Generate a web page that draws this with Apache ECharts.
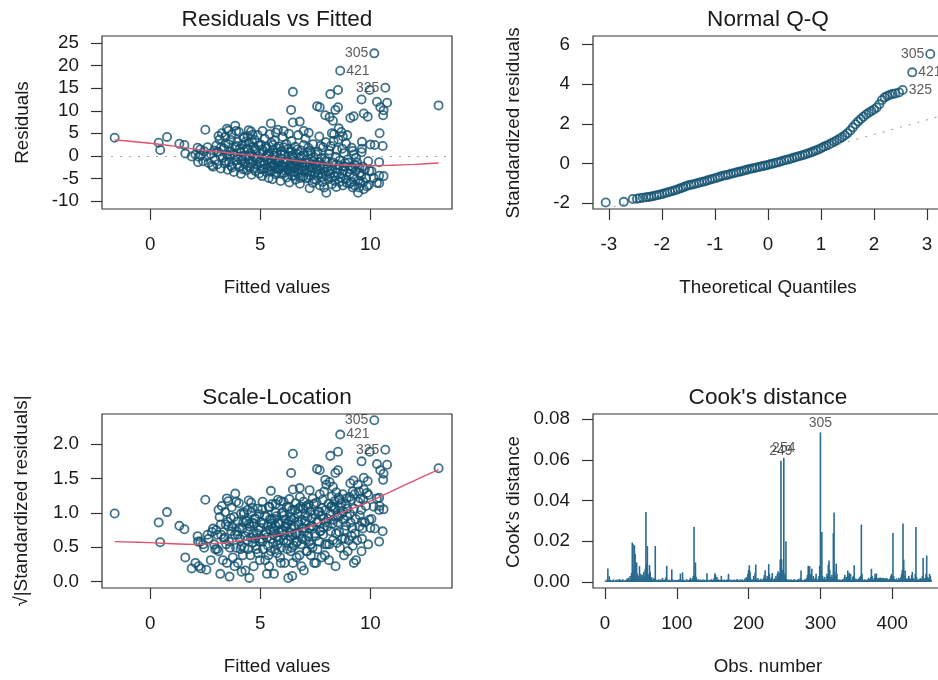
<!DOCTYPE html>
<html>
<head>
<meta charset="utf-8">
<script src="https://cdn.jsdelivr.net/npm/echarts@6.0.0/dist/echarts.min.js"></script>
<style>
  html, body { margin: 0; padding: 0; background: #fff; }
  #chart { width: 938px; height: 680px; }
</style>
</head>
<body>
<div id="chart"></div>
<script>
// ---- Regression diagnostics: data ----

// Residuals vs Fitted: [fitted value, residual]
const residFit = [
  [-1.62,4.0],[0.38,2.9],[0.45,1.3],[0.76,4.2],[1.32,2.7],[1.55,2.4],[1.59,0.5],[1.88,-0.15],[2.15,1.8],[2.27,1.4],[2.17,-1.4],[2.8,-2.1],[2.5,5.8],[3.48,6.0],[3.86,6.7],[4.47,5.7],[5.48,7.2],
  [2.05,0.3],[2.2,-0.2],[2.3,0.15],[2.4,-1.2],[2.45,1.0],
  [2.55,-0.12],[2.6,1.9],[2.65,-1.6],[2.75,0.4],[2.85,-2.4],[2.9,1.2],[2.95,-0.9],
  [3.0,2.3],[3.05,-1.9],[3.1,0.8],[3.15,3.6],[3.2,-2.8],[3.3,-0.4],[3.35,1.6],[3.4,4.2],[3.45,-1.2],[3.48,0.3],[3.1,4.4],[3.25,5.0],[3.18,-0.05],
  [3.52,-3.1],[3.55,2.6],[3.6,-0.02],[3.62,1.0],[3.68,-2.2],[3.7,4.8],[3.75,0.5],[3.8,-3.6],[3.85,1.9],[3.9,-1.0],[3.95,3.1],[3.98,-0.3],[3.55,5.6],[3.9,5.5],
  [4.02,5.3],[4.05,-2.5],[4.1,0.9],[4.12,-4.0],[4.18,2.4],[4.2,-0.6],[4.25,3.9],[4.3,-1.8],[4.32,0.1],[4.38,-3.2],[4.4,1.5],[4.42,4.4],[4.45,-0.9],[4.48,2.9],[4.24,4.2],[4.15,-0.08],
  [4.52,-2.6],[4.55,0.6],[4.58,5.4],[4.6,-4.2],[4.65,-1.3],[4.68,2.0],[4.7,-0.2],[4.75,3.5],[4.78,-3.4],[4.8,1.1],[4.85,-2.0],[4.88,4.6],[4.9,-0.7],[4.95,-3.9],[4.98,0.4],[4.65,4.7],
  [5.02,2.5],[5.05,-1.6],[5.08,-4.5],[5.12,0.9],[5.15,-2.9],[5.2,3.8],[5.22,-0.4],[5.28,-3.6],[5.3,1.7],[5.35,-1.1],[5.38,-4.9],[5.4,0.2],[5.42,4.8],[5.45,-2.3],[5.48,-0.8],[5.5,2.9],[5.1,5.5],[5.3,-0.05],
  [5.52,-3.3],[5.55,-5.2],[5.58,1.3],[5.6,-1.9],[5.62,0.05],[5.65,3.4],[5.68,-2.7],[5.7,-4.1],[5.75,0.7],[5.78,-1.2],[5.8,5.8],[5.82,-3.0],[5.85,2.1],[5.9,-0.5],[5.92,-5.6],[5.95,1.0],[5.98,-2.2],[5.7,5.2],
  [6.02,4.2],[6.05,-1.5],[6.08,-3.8],[6.1,0.3],[6.12,-2.6],[6.18,2.6],[6.2,-4.8],[6.22,-0.9],[6.25,1.5],[6.3,-3.2],[6.32,-5.9],[6.35,-1.8],[6.38,0.8],[6.4,-2.4],[6.42,3.3],[6.45,-4.4],[6.48,-0.3],[6.06,5.5],[6.3,4.9],[6.48,14.2],[6.4,10.2],[6.48,7.4],[6.45,-0.03],
  [6.52,-1.1],[6.55,-3.5],[6.58,2.0],[6.6,-5.3],[6.62,-2.0],[6.65,0.5],[6.7,-4.0],[6.72,4.6],[6.75,-2.8],[6.78,-0.6],[6.8,-6.2],[6.85,1.2],[6.88,-3.3],[6.9,-1.6],[6.95,-4.6],[6.98,0.1],[6.97,5.5],[6.79,7.6],
  [7.02,-2.2],[7.05,3.8],[7.08,-5.0],[7.1,-0.8],[7.15,-3.6],[7.18,1.8],[7.24,-7.2],[7.22,-1.4],[7.25,-4.3],[7.3,0.6],[7.32,-2.7],[7.38,-6.0],[7.4,2.6],[7.45,-0.3],[7.48,-3.9],[7.2,5.1],
  [7.52,-1.8],[7.55,-5.4],[7.6,0.9],[7.62,-3.1],[7.68,4.3],[7.7,-6.6],[7.72,-2.2],[7.78,-0.5],[7.8,-4.7],[7.85,1.9],[7.88,-3.4],[7.9,-7.0],[7.95,-1.2],[7.98,3.0],[7.58,11.0],[7.7,10.8],[7.95,9.0],
  [8.0,-8.2],[8.05,-2.6],[8.1,-5.2],[8.12,0.4],[8.18,-3.9],[8.2,2.2],[8.25,-6.3],[8.3,-1.5],[8.35,4.8],[8.4,-4.5],[8.42,-0.2],[8.45,-6.9],[8.48,1.3],[8.18,13.7],[8.3,7.8],[8.41,10.2],[8.53,10.8],[8.53,14.6],[8.15,8.6],[8.25,5.0],
  [8.52,-3.0],[8.55,3.6],[8.6,-5.8],[8.62,-1.0],[8.68,5.3],[8.7,-4.0],[8.75,-6.6],[8.8,0.6],[8.82,-2.3],[8.88,-5.2],[8.9,2.7],[8.95,-3.7],[8.63,18.9],[8.75,4.3],[8.95,4.6],[8.56,6.1],
  [9.02,-1.5],[9.05,-6.2],[9.1,-3.0],[9.15,1.8],[9.2,-7.0],[9.25,-4.6],[9.3,-2.0],[9.35,-0.4],[9.44,-8.2],[9.45,-5.5],[9.09,8.4],[9.24,8.8],[9.2,1.1],[9.25,0.3],
  [9.52,-3.8],[9.55,-6.0],[9.6,0.8],[9.65,-2.4],[9.7,-7.4],[9.8,-5.0],[9.9,-1.2],[9.95,-3.3],[9.6,12.5],[9.7,9.4],[9.88,8.7],[9.62,3.1],[9.62,1.6],[9.92,-6.5],[9.97,14.6],[10.0,2.5],
  [10.18,22.75],[10.68,15.1],[10.3,12.0],[10.76,11.8],[10.45,10.8],[10.6,10.1],[10.58,9.0],[10.42,5.0],[10.2,2.4],[10.56,2.2],[10.4,-1.4],[10.4,-4.4],[10.4,-6.1],[10.15,-4.9],[10.3,-6.0],[10.05,-3.4],[10.6,-4.5],[13.1,11.2],
  [3.03,0.9],[3.22,1.9],[3.38,-1.7],[3.43,2.8],[3.58,-1.4],[3.66,3.5],[3.72,-2.6],[3.83,0.2],[3.93,2.2],[3.97,-1.9],
  [4.07,1.6],[4.14,-1.1],[4.22,-3.0],[4.28,1.0],[4.35,3.2],[4.43,-2.2],[4.5,0.0],[4.57,-1.7],[4.63,3.0],[4.72,-2.9],[4.77,1.6],[4.83,-0.9],[4.93,2.3],[4.97,-1.4],
  [5.04,-3.0],[5.1,1.4],[5.18,-1.9],[5.25,2.1],[5.33,-2.7],[5.37,0.6],[5.44,-3.4],[5.5,-1.6],[5.57,2.4],[5.63,-2.2],[5.67,-0.9],[5.73,-3.7],[5.77,1.7],[5.83,-1.5],[5.88,-2.9],[5.93,0.3],[5.97,-4.0],
  [6.03,-2.3],[6.07,1.9],[6.13,-3.3],[6.17,-1.3],[6.23,-2.9],[6.27,0.0],[6.33,-2.1],[6.37,-3.6],[6.43,1.0],[6.47,-1.9],[6.53,-2.6],[6.57,-4.4],[6.63,-1.3],[6.68,1.4],[6.73,-3.1],[6.77,-2.0],[6.83,-4.9],[6.87,-0.2],[6.93,-2.5],[6.97,2.4],
  [7.03,-3.2],[7.07,-1.5],[7.13,0.8],[7.17,-4.8],[7.23,-2.4],[7.28,1.2],[7.33,-3.5],[7.37,-1.0],[7.43,-5.2],[7.47,-2.0],[7.53,0.3],[7.57,-3.0],[7.63,-4.2],[7.67,-1.4],[7.73,2.2],[7.77,-3.8],[7.83,-5.8],[7.87,-2.5],[7.93,-0.6],[7.97,-4.4],
  [8.03,-1.2],[8.08,-3.4],[8.13,1.2],[8.22,-4.9],[8.28,-2.9],[8.33,3.3],[8.38,-5.6],[8.44,-2.0],[8.5,-3.8],[8.58,-2.1],[8.65,-4.8],[8.72,1.6],[8.78,-3.3],[8.85,-1.6],[8.92,-6.0],[8.97,-0.8],
  [9.07,-4.0],[9.13,-5.8],[9.18,-2.5],[9.28,-6.6],[9.33,-3.4],[9.4,-1.5],[9.48,-7.0],[9.58,-4.4],[9.68,-5.8],[9.75,-3.0],[9.85,-6.8],[9.5,-2.6]
];

// Scale-Location: [fitted value, sqrt(|standardized residual|)]
const scaleLoc = [
  [-1.62,0.99],[0.38,0.86],[0.45,0.57],[0.76,1.01],[1.32,0.81],[1.55,0.76],[1.59,0.35],[1.88,0.19],[2.15,0.66],[2.27,0.58],[2.17,0.58],[2.8,0.72],[2.5,1.19],[3.48,1.21],[3.86,1.28],[4.47,1.18],[5.48,1.32],
  [2.05,0.27],[2.2,0.22],[2.3,0.19],[2.4,0.54],[2.45,0.49],
  [2.55,0.17],[2.6,0.68],[2.65,0.62],[2.75,0.31],[2.85,0.77],[2.9,0.54],[2.95,0.47],
  [3.0,0.75],[3.05,0.68],[3.1,0.44],[3.15,0.94],[3.2,0.83],[3.3,0.31],[3.35,0.62],[3.4,1.01],[3.45,0.54],[3.48,0.27],[3.1,1.04],[3.25,1.10],[3.18,0.11],
  [3.52,0.87],[3.55,0.80],[3.6,0.07],[3.62,0.49],[3.68,0.73],[3.7,1.08],[3.75,0.35],[3.8,0.94],[3.85,0.68],[3.9,0.49],[3.95,0.87],[3.98,0.27],[3.55,1.17],[3.9,1.16],
  [4.02,1.14],[4.05,0.78],[4.1,0.47],[4.12,0.99],[4.18,0.77],[4.2,0.38],[4.25,0.98],[4.3,0.66],[4.32,0.16],[4.38,0.88],[4.4,0.60],[4.42,1.04],[4.45,0.47],[4.48,0.84],[4.24,1.01],[4.15,0.14],
  [4.52,0.80],[4.55,0.38],[4.58,1.15],[4.6,1.01],[4.65,0.56],[4.68,0.70],[4.7,0.22],[4.75,0.92],[4.78,0.91],[4.8,0.52],[4.85,0.70],[4.88,1.06],[4.9,0.41],[4.95,0.98],[4.98,0.31],[4.65,1.07],
  [5.02,0.78],[5.05,0.62],[5.08,1.05],[5.12,0.47],[5.15,0.84],[5.2,0.96],[5.22,0.31],[5.28,0.94],[5.3,0.64],[5.35,0.52],[5.38,1.09],[5.4,0.22],[5.42,1.08],[5.45,0.75],[5.48,0.44],[5.5,0.84],[5.1,1.16],[5.3,0.11],
  [5.52,0.90],[5.55,1.13],[5.58,0.56],[5.6,0.68],[5.62,0.11],[5.65,0.91],[5.68,0.81],[5.7,1.00],[5.75,0.41],[5.78,0.54],[5.8,1.19],[5.82,0.86],[5.85,0.72],[5.9,0.35],[5.92,1.17],[5.95,0.49],[5.98,0.73],[5.7,1.13],
  [6.02,1.01],[6.05,0.60],[6.08,0.96],[6.1,0.27],[6.12,0.80],[6.18,0.80],[6.2,1.08],[6.22,0.47],[6.25,0.60],[6.3,0.88],[6.32,1.20],[6.35,0.66],[6.38,0.44],[6.4,0.77],[6.42,0.90],[6.45,1.04],[6.48,0.27],[6.06,1.16],[6.3,1.09],[6.48,1.86],[6.4,1.58],[6.48,1.34],[6.45,0.08],
  [6.52,0.52],[6.55,0.92],[6.58,0.70],[6.6,1.14],[6.62,0.70],[6.65,0.35],[6.7,0.99],[6.72,1.06],[6.75,0.83],[6.78,0.38],[6.8,1.23],[6.85,0.54],[6.88,0.90],[6.9,0.62],[6.95,1.06],[6.98,0.16],[6.97,1.16],[6.79,1.36],
  [7.02,0.73],[7.05,0.96],[7.08,1.10],[7.1,0.44],[7.15,0.94],[7.18,0.66],[7.24,1.33],[7.22,0.58],[7.25,1.02],[7.3,0.38],[7.32,0.81],[7.38,1.21],[7.4,0.80],[7.45,0.27],[7.48,0.98],[7.2,1.12],
  [7.52,0.66],[7.55,1.15],[7.6,0.47],[7.62,0.87],[7.68,1.02],[7.7,1.27],[7.72,0.73],[7.78,0.35],[7.8,1.07],[7.85,0.68],[7.88,0.91],[7.9,1.31],[7.95,0.54],[7.98,0.86],[7.58,1.64],[7.7,1.62],[7.95,1.48],
  [8.0,1.41],[8.05,0.80],[8.1,1.13],[8.12,0.31],[8.18,0.98],[8.2,0.73],[8.25,1.24],[8.3,0.60],[8.35,1.08],[8.4,1.05],[8.42,0.22],[8.45,1.30],[8.48,0.56],[8.18,1.83],[8.3,1.38],[8.41,1.58],[8.53,1.62],[8.53,1.89],[8.15,1.45],[8.25,1.10],
  [8.52,0.86],[8.55,0.94],[8.6,1.19],[8.62,0.49],[8.68,1.14],[8.7,0.99],[8.75,1.27],[8.8,0.38],[8.82,0.75],[8.88,1.13],[8.9,0.81],[8.95,0.95],[8.63,2.14],[8.75,1.02],[8.95,1.06],[8.56,1.22],
  [9.02,0.60],[9.05,1.23],[9.1,0.86],[9.15,0.66],[9.2,1.31],[9.25,1.06],[9.3,0.70],[9.35,0.31],[9.44,1.41],[9.45,1.16],[9.09,1.43],[9.24,1.47],[9.2,0.52],[9.25,0.27],
  [9.52,0.96],[9.55,1.21],[9.6,0.44],[9.65,0.77],[9.7,1.34],[9.8,1.10],[9.9,0.54],[9.95,0.90],[9.6,1.75],[9.7,1.51],[9.88,1.46],[9.62,0.87],[9.62,0.62],[9.92,1.26],[9.97,1.89],[10.0,0.78],
  [10.18,2.35],[10.68,1.92],[10.3,1.71],[10.76,1.70],[10.45,1.62],[10.6,1.57],[10.58,1.48],[10.42,1.10],[10.2,0.77],[10.56,0.73],[10.4,0.58],[10.4,1.04],[10.4,1.22],[10.15,1.09],[10.3,1.21],[10.05,0.91],[10.6,1.05],[13.1,1.65],
  [3.03,0.47],[3.22,0.68],[3.38,0.64],[3.43,0.83],[3.58,0.58],[3.66,0.92],[3.72,0.80],[3.83,0.22],[3.93,0.73],[3.97,0.68],
  [4.07,0.62],[4.14,0.52],[4.22,0.86],[4.28,0.49],[4.35,0.88],[4.43,0.73],[4.5,0.05],[4.57,0.64],[4.63,0.86],[4.72,0.84],[4.77,0.62],[4.83,0.47],[4.93,0.75],[4.97,0.58],
  [5.04,0.86],[5.1,0.58],[5.18,0.68],[5.25,0.72],[5.33,0.81],[5.37,0.38],[5.44,0.91],[5.5,0.62],[5.57,0.77],[5.63,0.73],[5.67,0.47],[5.73,0.95],[5.77,0.64],[5.83,0.60],[5.88,0.84],[5.93,0.27],[5.97,0.99],
  [6.03,0.75],[6.07,0.68],[6.13,0.90],[6.17,0.56],[6.23,0.84],[6.27,0.05],[6.33,0.72],[6.37,0.94],[6.43,0.49],[6.47,0.68],[6.53,0.80],[6.57,1.04],[6.63,0.56],[6.68,0.58],[6.73,0.87],[6.77,0.70],[6.83,1.09],[6.87,0.22],[6.93,0.78],[6.97,0.77],
  [7.03,0.88],[7.07,0.60],[7.13,0.44],[7.17,1.08],[7.23,0.77],[7.28,0.54],[7.33,0.92],[7.37,0.49],[7.43,1.13],[7.47,0.70],[7.53,0.27],[7.57,0.86],[7.63,1.01],[7.67,0.58],[7.73,0.73],[7.77,0.96],[7.83,1.19],[7.87,0.78],[7.93,0.38],[7.97,1.04],
  [8.03,0.54],[8.08,0.91],[8.13,0.54],[8.22,1.09],[8.28,0.84],[8.33,0.90],[8.38,1.17],[8.44,0.70],[8.5,0.96],[8.58,0.72],[8.65,1.08],[8.72,0.62],[8.78,0.90],[8.85,0.62],[8.92,1.21],[8.97,0.44],
  [9.07,0.99],[9.13,1.19],[9.18,0.78],[9.28,1.27],[9.33,0.91],[9.4,0.60],[9.48,1.31],[9.58,1.04],[9.68,1.19],[9.75,0.86],[9.85,1.29],[9.5,0.80]
];

// Smoothed trend lines
const residSmooth = [[-1.62,3.5],[0,2.8],[1,2.2],[2,1.5],[3,0.95],[4,0.4],[5,-0.1],[6,-0.7],[7,-1.3],[8,-1.8],[9,-2.1],[10,-2.2],[11,-2.1],[12,-1.9],[13.1,-1.6]];
const scaleSmooth = [[-1.62,0.58],[0,0.565],[1,0.55],[2,0.54],[3,0.555],[4,0.59],[5,0.64],[6,0.69],[7,0.77],[8,0.9],[9,1.04],[10,1.17],[11,1.32],[12,1.47],[13.1,1.63]];

// Normal Q-Q: [theoretical quantile, standardized residual]
const qqPoints = [
  [-3.06,-1.96],[-2.72,-1.93],[-2.55,-1.79],[-2.47,-1.77],[-2.42,-1.75],[-2.36,-1.72],[-2.3,-1.70],[-2.25,-1.68],[-2.2,-1.66],[-2.15,-1.63],
  [-2.1,-1.60],[-2.05,-1.57],[-2.0,-1.54],[-1.95,-1.50],[-1.9,-1.46],[-1.85,-1.42],[-1.8,-1.38],[-1.75,-1.34],[-1.7,-1.30],[-1.65,-1.25],
  [-1.6,-1.20],[-1.55,-1.14],[-1.5,-1.10],[-1.45,-1.07],[-1.4,-1.04],[-1.35,-1.00],[-1.3,-0.97],[-1.25,-0.93],[-1.2,-0.90],[-1.15,-0.86],
  [-1.1,-0.82],[-1.05,-0.78],[-1.0,-0.74],[-0.95,-0.70],[-0.9,-0.66],[-0.85,-0.62],[-0.8,-0.59],[-0.75,-0.56],[-0.7,-0.52],[-0.65,-0.49],
  [-0.6,-0.45],[-0.55,-0.42],[-0.5,-0.39],[-0.45,-0.35],[-0.4,-0.32],[-0.35,-0.28],[-0.3,-0.25],[-0.25,-0.22],[-0.2,-0.19],[-0.15,-0.16],
  [-0.1,-0.13],[-0.05,-0.10],[0,-0.07],[0.05,-0.03],[0.1,0.0],[0.15,0.04],[0.2,0.07],[0.25,0.11],[0.3,0.15],[0.35,0.19],
  [0.4,0.22],[0.45,0.26],[0.5,0.30],[0.55,0.34],[0.6,0.38],[0.65,0.42],[0.7,0.46],[0.75,0.51],[0.8,0.55],[0.85,0.60],
  [0.9,0.66],[0.95,0.71],[1.0,0.77],[1.05,0.84],[1.1,0.90],[1.15,0.96],[1.2,1.03],[1.25,1.10],[1.3,1.17],[1.35,1.25],
  [1.4,1.33],[1.45,1.42],[1.5,1.53],[1.55,1.66],[1.6,1.82],[1.65,1.98],[1.7,2.12],[1.75,2.24],[1.8,2.36],[1.85,2.47],
  [1.9,2.56],[1.95,2.64],[2.0,2.72],[2.05,2.82],[2.1,2.98],[2.15,3.20],[2.2,3.33],[2.25,3.40],[2.3,3.46],[2.35,3.50],
  [2.4,3.53],[2.47,3.58],[2.54,3.70],[2.72,4.59],[3.06,5.51]
];
// Q-Q reference line endpoints
const qqLine = [[-3.4,-2.54],[3.4,2.50]];

// Cook's distance by observation number (1..454)
const cooksD = [
  0.0008,0.0005,0.0012,0.0066,0.0009,0.0028,0.0006,0.0011,0.0004,0.0007,
  0.0009,0.0013,0.0005,0.0003,0.0010,0.0006,0.0012,0.0004,0.0008,0.0015,
  0.0007,0.0011,0.0005,0.0009,0.0014,0.0006,0.0003,0.0010,0.0008,0.0012,
  0.0018,0.0007,0.0021,0.0009,0.0030,0.0012,0.0045,0.0194,0.0186,0.0060,
  0.0180,0.0137,0.0025,0.0096,0.0042,0.0031,0.0019,0.0078,0.0028,0.0040,
  0.0022,0.0035,0.0012,0.0050,0.0026,0.0065,0.0344,0.0090,0.0177,0.0041,
  0.0030,0.0083,0.0050,0.0018,0.0024,0.0012,0.0009,0.0020,0.0015,0.0177,
  0.0008,0.0011,0.0006,0.0010,0.0014,0.0005,0.0009,0.0012,0.0007,0.0020,
  0.0011,0.0006,0.0009,0.0015,0.0024,0.0080,0.0013,0.0005,0.0008,0.0011,
  0.0006,0.0010,0.0062,0.0014,0.0007,0.0005,0.0009,0.0011,0.0006,0.0008,
  0.0010,0.0005,0.0013,0.0008,0.0041,0.0011,0.0006,0.0047,0.0012,0.0007,
  0.0009,0.0005,0.0011,0.0014,0.0006,0.0008,0.0010,0.0013,0.0021,0.0009,
  0.0012,0.0018,0.0030,0.0270,0.0045,0.0096,0.0025,0.0011,0.0008,0.0014,
  0.0006,0.0009,0.0012,0.0005,0.0010,0.0007,0.0013,0.0008,0.0011,0.0006,
  0.0009,0.0043,0.0012,0.0007,0.0005,0.0010,0.0008,0.0014,0.0006,0.0011,
  0.0009,0.0020,0.0043,0.0035,0.0012,0.0025,0.0008,0.0013,0.0006,0.0010,
  0.0009,0.0030,0.0007,0.0011,0.0005,0.0012,0.0008,0.0006,0.0010,0.0014,
  0.0009,0.0040,0.0007,0.0012,0.0006,0.0009,0.0011,0.0005,0.0008,0.0013,
  0.0010,0.0006,0.0009,0.0015,0.0007,0.0011,0.0005,0.0012,0.0008,0.0010,
  0.0014,0.0006,0.0009,0.0011,0.0018,0.0007,0.0025,0.0012,0.0040,0.0060,
  0.0082,0.0050,0.0018,0.0010,0.0008,0.0013,0.0030,0.0012,0.0045,0.0086,
  0.0014,0.0009,0.0020,0.0011,0.0007,0.0012,0.0016,0.0009,0.0010,0.0013,
  0.0020,0.0035,0.0058,0.0018,0.0012,0.0030,0.0022,0.0088,0.0040,0.0015,
  0.0010,0.0025,0.0044,0.0012,0.0008,0.0018,0.0011,0.0030,0.0015,0.0040,
  0.0053,0.0020,0.0045,0.0110,0.0595,0.0112,0.0060,0.0035,0.0610,0.0042,
  0.0030,0.0200,0.0015,0.0009,0.0012,0.0007,0.0011,0.0008,0.0013,0.0006,
  0.0010,0.0009,0.0014,0.0012,0.0007,0.0011,0.0008,0.0010,0.0015,0.0009,
  0.0012,0.0020,0.0057,0.0011,0.0008,0.0006,0.0010,0.0013,0.0009,0.0015,
  0.0020,0.0035,0.0080,0.0025,0.0078,0.0040,0.0018,0.0065,0.0012,0.0030,
  0.0015,0.0010,0.0022,0.0040,0.0012,0.0008,0.0018,0.0030,0.0080,0.0735,
  0.0060,0.0246,0.0030,0.0012,0.0018,0.0025,0.0010,0.0015,0.0040,0.0030,
  0.0085,0.0105,0.0060,0.0025,0.0015,0.0035,0.0020,0.0240,0.0341,0.0050,
  0.0030,0.0090,0.0040,0.0015,0.0010,0.0008,0.0012,0.0007,0.0011,0.0009,
  0.0014,0.0010,0.0020,0.0035,0.0012,0.0025,0.0018,0.0057,0.0030,0.0045,
  0.0015,0.0040,0.0010,0.0012,0.0025,0.0030,0.0082,0.0020,0.0010,0.0015,
  0.0009,0.0012,0.0018,0.0010,0.0025,0.0030,0.0282,0.0040,0.0012,0.0008,
  0.0010,0.0014,0.0007,0.0011,0.0009,0.0012,0.0020,0.0010,0.0015,0.0025,
  0.0065,0.0030,0.0015,0.0010,0.0020,0.0040,0.0025,0.0042,0.0018,0.0012,
  0.0020,0.0015,0.0022,0.0018,0.0020,0.0012,0.0019,0.0021,0.0015,0.0018,
  0.0012,0.0020,0.0016,0.0010,0.0014,0.0011,0.0018,0.0030,0.0040,0.0020,
  0.0241,0.0030,0.0015,0.0010,0.0012,0.0018,0.0009,0.0011,0.0020,0.0014,
  0.0012,0.0025,0.0040,0.0060,0.0287,0.0110,0.0030,0.0057,0.0020,0.0015,
  0.0012,0.0018,0.0030,0.0020,0.0015,0.0012,0.0035,0.0050,0.0020,0.0015,
  0.0012,0.0040,0.0270,0.0025,0.0012,0.0009,0.0014,0.0010,0.0020,0.0012,
  0.0015,0.0030,0.0118,0.0020,0.0012,0.0018,0.0040,0.0130,0.0025,0.0015,
  0.0020,0.0040,0.0030,0.0012
];

// Flagged observations (row names) per panel
const residIds = [{ name: '305', value: [10.18, 22.75], side: 'left' }, { name: '421', value: [8.63, 18.9], side: 'right' }, { name: '325', value: [10.68, 15.1], side: 'left' }];
const qqIds = [{ name: '305', value: [3.06, 5.51], side: 'left' }, { name: '421', value: [2.72, 4.59], side: 'right' }, { name: '325', value: [2.54, 3.70], side: 'right' }];
const scaleIds = [{ name: '305', value: [10.18, 2.35], side: 'left' }, { name: '421', value: [8.63, 2.14], side: 'right' }, { name: '325', value: [10.68, 1.92], side: 'left' }];
const cookIds = [{ name: '249', obs: 245 }, { name: '254', obs: 249 }, { name: '305', obs: 300 }];

// Tick positions
const fittedTicks = [0, 5, 10];
const residTicks = [-10, -5, 0, 5, 10, 15, 20, 25];
const qqXTicks = [-3, -2, -1, 0, 1, 2, 3];
const qqYTicks = [-2, 0, 2, 4, 6];
const scaleTicks = [0, 0.5, 1, 1.5, 2];
const obsTicks = [0, 100, 200, 300, 400];
const cookTicks = [0, 0.02, 0.04, 0.06, 0.08];

// ---- Styling ----
const FONT = '"Liberation Sans", Arial, Helvetica, sans-serif';
const INK = '#1a1a1a';
const POINT = '#10506f';
const SMOOTH = '#DF536B';
const TICK_FS = 18.8;

function axis(gridIndex, min, max, ticks, fmt, margin) {
  return {
    type: 'value', gridIndex, min, max,
    axisLine: { show: false, onZero: false },
    splitLine: { show: false },
    axisTick: { show: true, inside: false, length: 11, customValues: ticks, lineStyle: { color: '#333', width: 1.2 } },
    axisLabel: { show: true, customValues: ticks, margin, fontSize: TICK_FS, color: INK, fontFamily: FONT, formatter: fmt }
  };
}

function grid(left, top, width, height) {
  return { left, top, width, height, show: true, borderColor: '#333', borderWidth: 1.2, backgroundColor: 'rgba(0,0,0,0)', containLabel: false, outerBoundsMode: 'none' };
}

function ring(xi, yi, data) {
  return {
    type: 'scatter', xAxisIndex: xi, yAxisIndex: yi, data, symbol: 'circle', symbolSize: 8.2, silent: true,
    itemStyle: { color: 'rgba(0,0,0,0)', borderColor: POINT, borderWidth: 1.8 }
  };
}

function smooth(xi, yi, data) {
  return {
    type: 'line', xAxisIndex: xi, yAxisIndex: yi, data, smooth: 0.4, showSymbol: false, silent: true,
    lineStyle: { color: SMOOTH, width: 1.4 }
  };
}

function idLabels(xi, yi, items) {
  return {
    type: 'scatter', xAxisIndex: xi, yAxisIndex: yi, symbolSize: 1, silent: true, z: 5,
    itemStyle: { color: 'rgba(0,0,0,0)' },
    data: items.map(d => ({
      name: d.name, value: d.value,
      label: { show: true, position: d.side, distance: 5.5, formatter: '{b}', fontSize: 14, color: '#333', fontFamily: FONT }
    }))
  };
}

function text(str, x, y, size, rotation) {
  return {
    type: 'text', x, y, rotation: rotation || 0, silent: true,
    style: { text: str, fill: INK, font: size + 'px ' + FONT, textAlign: 'center', textVerticalAlign: 'middle', align: 'center', verticalAlign: 'middle' }
  };
}

const dotted = { color: '#a8a8a8', width: 1.2, type: [2, 7] };

const option = {
  animation: false,
  backgroundColor: '#fff',
  grid: [
    grid(102, 36, 350, 173),
    grid(593, 36, 350, 173),
    grid(102, 414, 350, 174),
    grid(593, 414, 350, 174)
  ],
  xAxis: [
    axis(0, -2.195, 13.71, fittedTicks, null, 26),
    axis(1, -3.3, 3.3, qqXTicks, null, 26),
    axis(2, -2.195, 13.71, fittedTicks, null, 26),
    axis(3, -16.7, 470.7, obsTicks, null, 26)
  ],
  yAxis: [
    axis(0, -11.8, 26.6, residTicks, null, 23),
    axis(1, -2.29, 6.42, qqYTicks, null, 23),
    axis(2, -0.096, 2.44, scaleTicks, v => v.toFixed(1), 23),
    axis(3, -0.00295, 0.0825, cookTicks, v => v.toFixed(2), 23)
  ],
  graphic: [
    text('Residuals vs Fitted', 277, 20, 22.6),
    text('Normal Q-Q', 768, 20, 22.6),
    text('Scale-Location', 277, 398, 22.6),
    text("Cook's distance", 768, 398, 22.6),
    text('Fitted values', 277, 288, 18.8),
    text('Theoretical Quantiles', 768, 288, 18.8),
    text('Fitted values', 277, 667, 18.8),
    text('Obs. number', 768, 667, 18.8),
    text('Residuals', 22.5, 122.5, 18.8, Math.PI / 2),
    text('Standardized residuals', 514, 123, 18.8, Math.PI / 2),
    text('\u221A|Standardized residuals|', 22, 501, 18.8, Math.PI / 2),
    text("Cook's distance", 514, 502, 18.8, Math.PI / 2)
  ],
  series: [
    // Residuals vs Fitted
    Object.assign(ring(0, 0, residFit), {
      markLine: { silent: true, symbol: 'none', label: { show: false }, lineStyle: dotted, data: [{ yAxis: 0 }] }
    }),
    smooth(0, 0, residSmooth),
    idLabels(0, 0, residIds),
    // Normal Q-Q
    { type: 'line', xAxisIndex: 1, yAxisIndex: 1, data: qqLine, showSymbol: false, silent: true, lineStyle: dotted },
    ring(1, 1, qqPoints),
    idLabels(1, 1, qqIds),
    // Scale-Location
    ring(2, 2, scaleLoc),
    smooth(2, 2, scaleSmooth),
    idLabels(2, 2, scaleIds),
    // Cook's distance
    {
      type: 'bar', xAxisIndex: 3, yAxisIndex: 3, barWidth: 1.6, silent: true,
      itemStyle: { color: '#2a6b90' },
      data: cooksD.map((v, i) => [i + 1, v])
    },
    {
      type: 'scatter', xAxisIndex: 3, yAxisIndex: 3, symbolSize: 1, silent: true, z: 5,
      itemStyle: { color: 'rgba(0,0,0,0)' },
      data: cookIds.map(d => ({
        name: d.name, value: [d.obs, cooksD[d.obs - 1]],
        label: { show: true, position: 'top', distance: 2, formatter: '{b}', fontSize: 14, color: '#333', fontFamily: FONT }
      }))
    }
  ]
};

const chart = echarts.init(document.getElementById('chart'), null, { renderer: 'canvas' });
chart.setOption(option);
</script>
</body>
</html>
